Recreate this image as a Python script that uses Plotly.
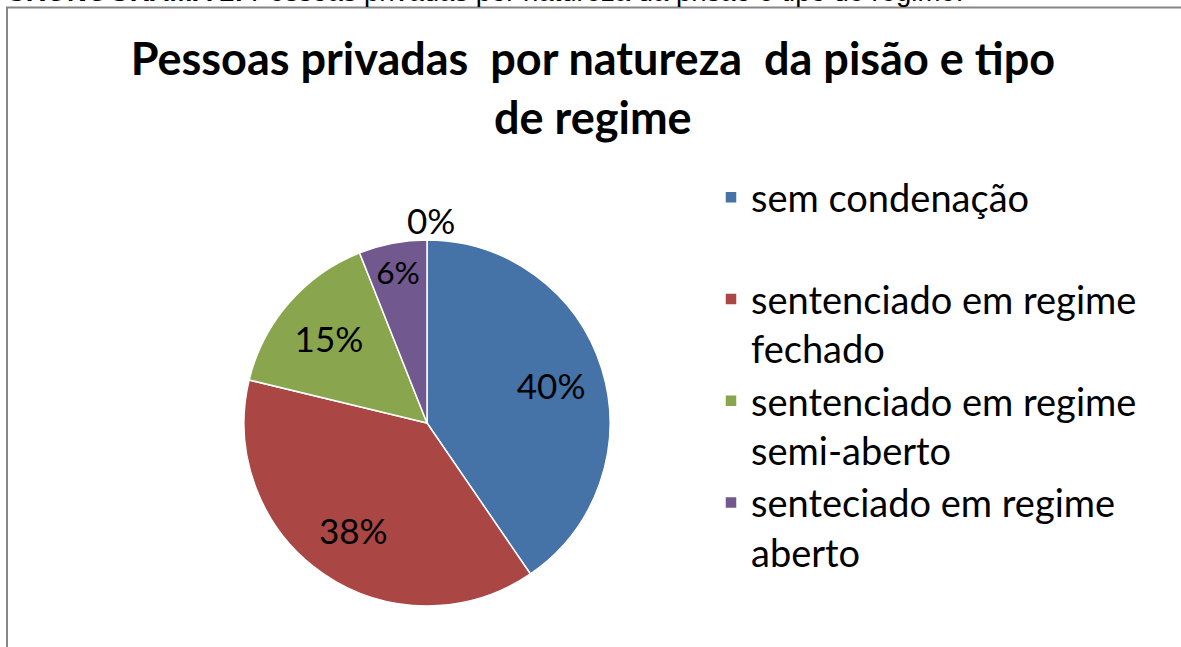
import plotly.graph_objects as go

# chart data
categorias = [
    "sem condenação<br> ",
    "sentenciado em regime<br>fechado",
    "sentenciado em regime<br>semi-aberto",
    "senteciado em regime<br>aberto",
]
valores = [40.4, 38.3, 15.2, 6.0]
cores = ["#4572A7", "#AA4643", "#89A54E", "#71588F"]
rotulo_zero = "0%"

W, H = 1181, 647
FONTE = "Lato, Open Sans, sans-serif"

def px_x(v):
    return v / W

def px_y(v):
    return 1 - v / H

dominio = dict(x=[px_x(244), px_x(610)], y=[px_y(606), px_y(240)])

fig = go.Figure()
# the coloured pie with the legend
fig.add_trace(go.Pie(
    labels=categorias, values=valores, sort=False,
    direction="clockwise", rotation=0,
    marker=dict(colors=cores, line=dict(color="white", width=1.5)),
    textinfo="none", domain=dominio,
    hoverinfo="label+percent",
))
# transparent ring on top only carries the percentage labels, placed further out like Excel
fig.add_trace(go.Pie(
    labels=categorias, values=valores, sort=False,
    direction="clockwise", rotation=0, hole=0.42,
    marker=dict(colors=["rgba(0,0,0,0)"] * len(valores), line=dict(width=0)),
    texttemplate="%{percent:.0%}",
    textposition="inside",
    insidetextorientation="horizontal",
    textfont=dict(family=FONTE, size=35, color="black"),
    domain=dominio, showlegend=False,
    hoverinfo="skip",
))

fig.update_layout(
    width=W, height=H,
    margin=dict(l=0, r=0, t=0, b=0),
    paper_bgcolor="white",
    plot_bgcolor="white",
    title=dict(
        text="<b>Pessoas privadas  por natureza  da pisão e tipo<br>de regime</b>",
        x=0.502, xanchor="center", y=px_y(75), yanchor="top",
        font=dict(family=FONTE, size=45, color="black"),
    ),
    legend=dict(
        x=px_x(711), xanchor="left", y=px_y(166), yanchor="top",
        font=dict(family=FONTE, size=38, color="black"),
        valign="top",
        bgcolor="rgba(0,0,0,0)",
    ),
    annotations=[
        dict(text=rotulo_zero, xref="paper", yref="paper",
             x=px_x(431), y=px_y(220), xanchor="center", yanchor="middle",
             showarrow=False, font=dict(family=FONTE, size=35, color="black")),
        dict(text="<b>CRONOGRAMA 1:</b> Pessoas privadas por natureza da prisão e tipo de regime.",
             xref="paper", yref="paper", x=px_x(4), y=px_y(9),
             xanchor="left", yanchor="bottom", showarrow=False,
             font=dict(family="Liberation Sans, Arial", size=27.5, color="black")),
    ],
    shapes=[
        dict(type="line", xref="paper", yref="paper",
             x0=px_x(7), x1=px_x(7), y0=0, y1=px_y(7),
             line=dict(color="#868686", width=2)),
        dict(type="line", xref="paper", yref="paper",
             x0=px_x(6), x1=1, y0=px_y(7.5), y1=px_y(7.5),
             line=dict(color="#868686", width=2)),
    ],
)

fig.write_html("out.html", config={"displayModeBar": False},
               post_script="document.body.style.margin='0';")
